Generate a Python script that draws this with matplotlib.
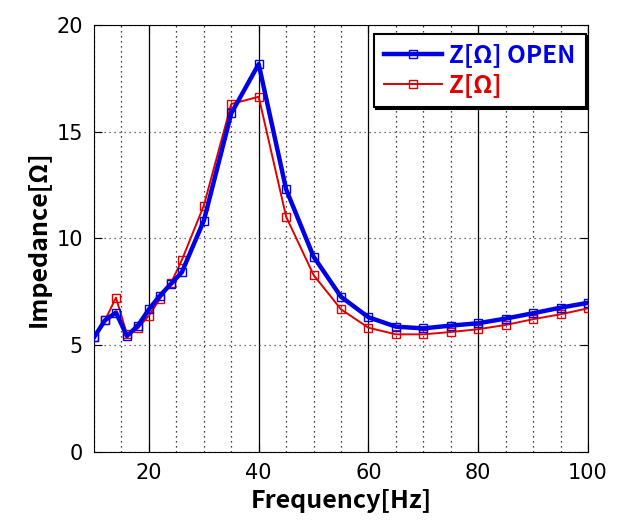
import matplotlib
matplotlib.use('Agg')
import matplotlib.pyplot as plt
from matplotlib.ticker import MultipleLocator

plt.rcParams['font.family'] = ['Noto Sans CJK JP', 'DejaVu Sans']

# 周波数と測定値
freq = [10, 12, 14, 16, 18, 20, 22, 24, 26, 30, 35, 40, 45, 50,
        55, 60, 65, 70, 75, 80, 85, 90, 95, 100]
z_open = [5.37, 6.17, 6.53, 5.43, 5.92, 6.68, 7.32, 7.87, 8.42, 10.83, 15.86, 18.17,
          12.30, 9.15, 7.27, 6.31, 5.87, 5.79, 5.92, 6.03, 6.25, 6.50, 6.76, 6.99]
z = [5.37, 6.17, 7.23, 5.51, 5.79, 6.39, 7.17, 7.90, 8.99, 11.54, 16.30, 16.64,
     11.02, 8.29, 6.68, 5.82, 5.51, 5.51, 5.62, 5.75, 5.95, 6.22, 6.45, 6.73]

fig = plt.figure(figsize=(6.21, 5.29), dpi=100)
ax = fig.add_axes([0.1514, 0.1456, 0.7955, 0.8071])

ax.plot(freq, z_open, '-s', color='#0000e6', lw=3.2, ms=6.3, mfc='none', mew=1.0,
        label='Z[Ω] OPEN', zorder=4)
ax.plot(freq, z, '-s', color='#e00000', lw=1.4, ms=6.3, mfc='none', mew=1.0,
        label='Z[Ω]', zorder=3)

ax.set_xlim(10, 100)
ax.set_ylim(0, 20)
ax.xaxis.set_major_locator(MultipleLocator(20))
ax.xaxis.set_minor_locator(MultipleLocator(5))
ax.yaxis.set_major_locator(MultipleLocator(5))

ax.grid(True, which='major', axis='x', color='black', lw=0.9, ls='-')
ax.grid(True, which='minor', axis='x', color='black', lw=0.9, ls=(0, (1, 3)))
ax.grid(True, which='major', axis='y', color='#444444', lw=0.9, ls=(0, (1, 3)))
ax.set_axisbelow(True)

ax.tick_params(which='both', direction='in', top=True, right=True)
ax.tick_params(which='major', length=6, labelsize=15, pad=8)
ax.tick_params(which='minor', length=0)
for lab in ax.get_xticklabels() + ax.get_yticklabels():
    lab.set_family(['Liberation Sans Narrow', 'DejaVu Sans'])

ax.set_xlabel('Frequency[Hz]', fontsize=18, fontweight='bold')
ax.set_ylabel('Impedance[Ω]', fontsize=18, fontweight='bold')

leg = ax.legend(loc='upper right', bbox_to_anchor=(0.995, 0.98), borderaxespad=0,
                fancybox=False, shadow={'color': 'black', 'alpha': 1, 'ox': 1.5, 'oy': -1.5},
                framealpha=1, edgecolor='black',
                prop={'size': 17.5, 'weight': 'bold'}, handlelength=2.4,
                borderpad=0.4, labelspacing=0.25, handletextpad=0.3)
leg.get_frame().set_linewidth(1.5)
for txt, c in zip(leg.get_texts(), ['#0000e6', '#e00000']):
    txt.set_color(c)

fig.savefig('out.png', dpi=100)
